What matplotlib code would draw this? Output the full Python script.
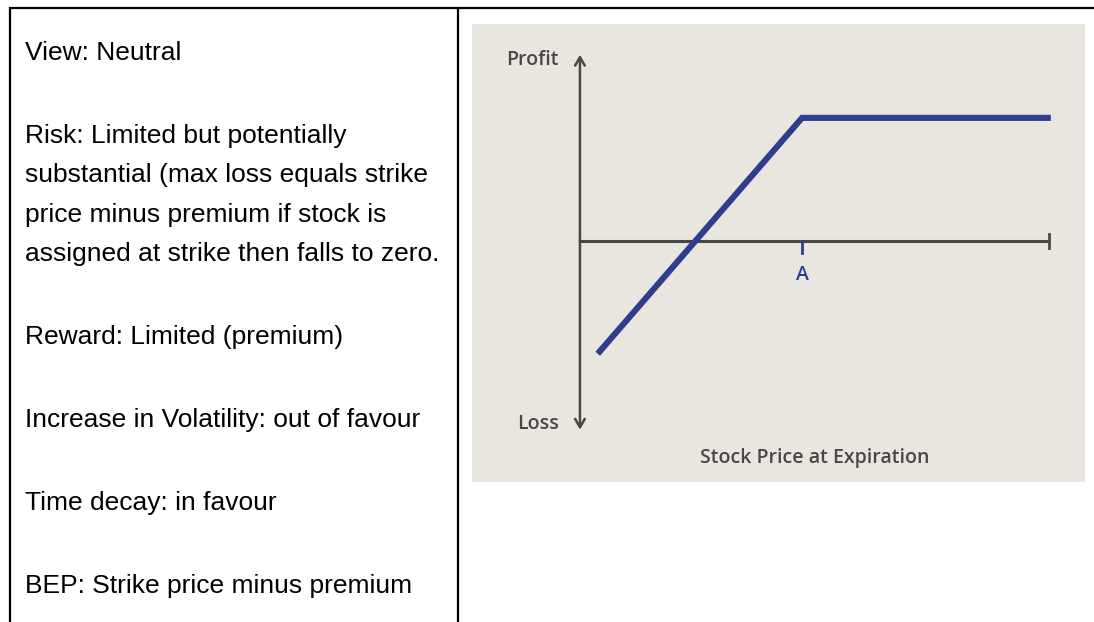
import matplotlib
matplotlib.use("Agg")
import matplotlib.pyplot as plt
from matplotlib.lines import Line2D

W, H = 1094, 622
DPI = 100

# ---- data ----
info_lines = [
    "View: Neutral",
    "Risk: Limited but potentially",
    "substantial (max loss equals strike",
    "price minus premium if stock is",
    "assigned at strike then falls to zero.",
    "Reward: Limited (premium)",
    "Increase in Volatility: out of favour",
    "Time decay: in favour",
    "BEP: Strike price minus premium",
]
info_baselines_px = [60, 143, 182, 222, 261, 344, 427, 510, 593]

stock_price = [4, 50, 106]      # price at expiration
profit = [-22, 24, 24]          # payoff (short put style)
strike = 50
strike_label = "A"
y_label_top = "Profit"
y_label_bottom = "Loss"
x_label = "Stock Price at Expiration"

# ---- figure ----
fig = plt.figure(figsize=(W / DPI, H / DPI), dpi=DPI)
fig.patch.set_facecolor("white")

def fx(px):
    return px / W

def fy(py):
    return 1 - py / H

# table borders
border_kw = dict(color="black", linewidth=1.6, transform=fig.transFigure, solid_capstyle="butt")
fig.add_artist(Line2D([fx(9), fx(1094)], [fy(7.5), fy(7.5)], **border_kw))
fig.add_artist(Line2D([fx(9.5), fx(9.5)], [fy(7), fy(622)], **border_kw))
fig.add_artist(Line2D([fx(458), fx(458)], [fy(7), fy(622)], **border_kw))

# left text
for line, yb in zip(info_lines, info_baselines_px):
    fig.text(fx(25), fy(yb), line, fontsize=19, family="Liberation Sans",
             color="black", ha="left", va="baseline")

# chart image area
left_px, right_px, top_px, bot_px = 472, 1085, 24, 482
ax = fig.add_axes([fx(left_px), fy(bot_px), fx(right_px - left_px), (bot_px - top_px) / H])
ax.set_facecolor("#e9e6e0")
for s in ax.spines.values():
    s.set_visible(False)
ax.set_xticks([])
ax.set_yticks([])
ax.set_xlim(-24.3, 113.7)
ax.set_ylim(-47.0, 42.3)

axis_col = "#4a4643"
txt_col = "#4a4846"
blue = "#2e3d8c"
font_chart = dict(family="Open Sans", fontweight="semibold", color=txt_col)

# vertical axis with arrows
arrow_style = "->,head_length=0.6,head_width=0.35"
ax.annotate("", xy=(0, 36.3), xytext=(0, 0),
            arrowprops=dict(arrowstyle=arrow_style, color=axis_col, lw=1.8,
                            shrinkA=0, shrinkB=0))
ax.annotate("", xy=(0, -36.8), xytext=(0, 0),
            arrowprops=dict(arrowstyle=arrow_style, color=axis_col, lw=1.8,
                            shrinkA=0, shrinkB=0))
# horizontal axis
x_end = 105.6
ax.plot([0, x_end], [0, 0], color=axis_col, lw=2.2, solid_capstyle="butt")
ax.plot([x_end, x_end], [-1.3, 1.3], color=axis_col, lw=2.0)
# strike tick
ax.plot([strike, strike], [0, -2.3], color=blue, lw=2.0)
ax.text(strike, -6.6, strike_label, ha="center", va="center", fontsize=14,
        family="Open Sans", fontweight="semibold", color=blue)

# payoff line
ax.plot(stock_price, profit, color=blue, lw=4.4, solid_capstyle="butt", solid_joinstyle="miter")

# labels
ax.text(-4.7, 35.3, y_label_top, ha="right", va="center", fontsize=14, **font_chart)
ax.text(-4.7, -35.7, y_label_bottom, ha="right", va="center", fontsize=14, **font_chart)
ax.text(52.9, -42.3, x_label, ha="center", va="center", fontsize=14, **font_chart)

fig.savefig("out.png", dpi=DPI, facecolor="white")
